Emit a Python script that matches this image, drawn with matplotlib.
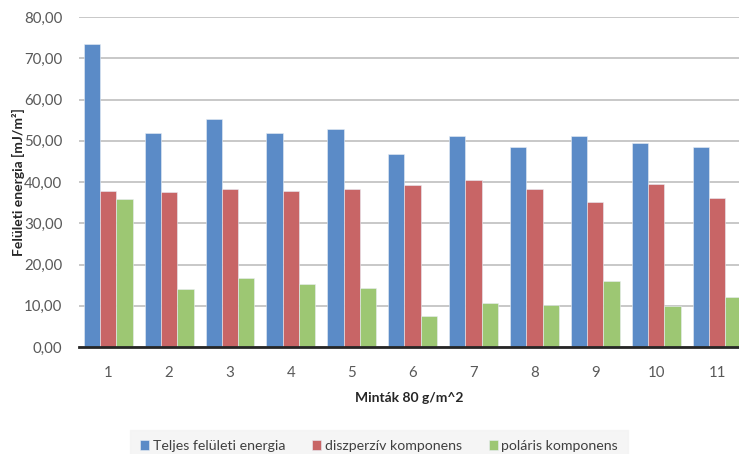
import matplotlib
matplotlib.use("Agg")
import matplotlib.pyplot as plt
import numpy as np

plt.rcParams['font.family'] = ['Lato', 'DejaVu Sans']

samples = ['1', '2', '3', '4', '5', '6', '7', '8', '9', '10', '11']
total_energy = [73.5, 51.8, 55.3, 51.8, 52.9, 46.7, 51.2, 48.6, 51.2, 49.5, 48.6]
dispersive = [37.7, 37.6, 38.3, 37.9, 38.3, 39.2, 40.4, 38.3, 35.1, 39.6, 36.1]
polar = [35.9, 14.1, 16.7, 15.2, 14.3, 7.4, 10.7, 10.3, 16.0, 9.9, 12.2]

series_names = ['Teljes felületi energia', 'diszperzív komponens', 'poláris komponens']
colors = ['#5B8BC7', '#C86566', '#9DC773']
yticks = [0, 10, 20, 30, 40, 50, 60, 70, 80]

fig = plt.figure(figsize=(7.39, 4.54), dpi=100)
W, H = 739, 454
ax = fig.add_axes([79 / W, 1 - 347 / H, (739 - 79) / W, (347 - 17) / H])

x = np.arange(len(samples))
bw = 0.268
for k, (vals, name, c) in enumerate(zip([total_energy, dispersive, polar], series_names, colors)):
    ax.bar(x + (k - 1) * bw, vals, width=bw, color=c, edgecolor='#e8eef5', linewidth=0.4,
           label=name, zorder=3)

ax.set_xlim(-0.48, 10.36)
ax.set_ylim(0, 80)
ax.set_yticks(yticks)
ax.set_yticklabels([f"{v:.2f}".replace('.', ',') for v in yticks])
ax.set_xticks(x)
ax.set_xticklabels(samples)
ax.grid(axis='y', color='#C4C4C4', linewidth=1.3, zorder=0)
for s in ['top', 'right', 'left']:
    ax.spines[s].set_visible(False)
ax.spines['bottom'].set_color('#262626')
ax.spines['bottom'].set_linewidth(2.0)
ax.spines['bottom'].set_zorder(4)
ax.tick_params(axis='both', length=0, labelsize=10.8, labelcolor='#595959')
ax.tick_params(axis='x', pad=14)
ax.tick_params(axis='y', pad=12)

ax.set_xlabel('Minták 80 g/m^2', fontsize=10, fontweight='bold', color='#262626', labelpad=8)
fig.text(18 / W, 1 - 182 / H, 'Felületi energia [mJ/m²]', rotation=90, fontsize=10,
         fontweight='bold', color='#262626', ha='center', va='center')

leg = fig.legend(loc='upper center', bbox_to_anchor=(379 / W, 1 - 427 / H), ncol=3,
                 frameon=True, fontsize=10.2, handlelength=0.65, handleheight=0.65,
                 handletextpad=0.25, columnspacing=1.9, borderpad=0.4)
leg.get_frame().set_facecolor('#F3F3F3')
leg.get_frame().set_edgecolor('#F3F3F3')
leg.get_frame().set_boxstyle('square')
for t in leg.get_texts():
    t.set_color('#404040')

fig.savefig('out.png', dpi=100)
